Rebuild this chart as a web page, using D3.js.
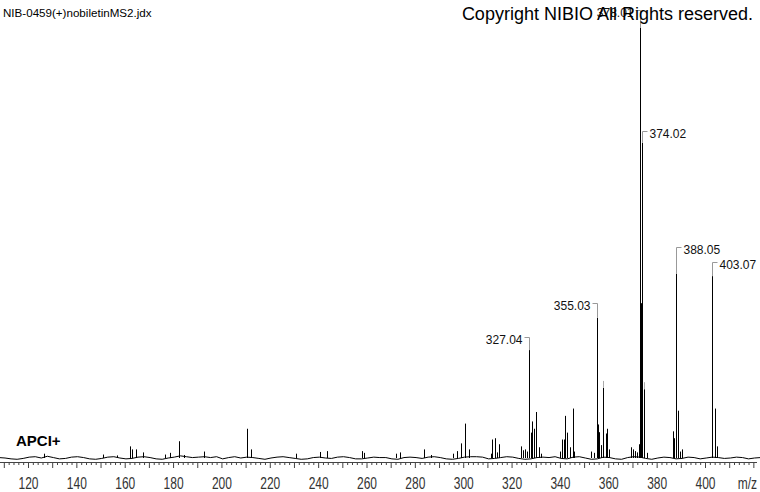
<!DOCTYPE html>
<html>
<head>
<meta charset="utf-8">
<script src="https://cdn.jsdelivr.net/npm/d3@7"></script>
<style>
  body { margin: 0; background: #fff; }
  svg { display: block; font-family: Arial, "Liberation Sans", sans-serif; }
</style>
</head>
<body>
<div id="spec"></div>
<script>
// spectrum data: m/z and relative intensity (%)
var peakMz = [126.6, 151.0, 157.0, 162.2, 163.0, 164.7, 167.6, 176.5, 178.7, 182.4, 184.5, 192.8,
  210.6, 212.4, 231.0, 240.8, 243.7, 258.0, 259.0, 272.0, 274.0, 283.8, 286.7,
  295.9, 297.3, 299.0, 300.9, 302.3, 311.4, 312.0, 313.0, 313.8, 314.9,
  324.0, 324.9, 325.5, 326.3, 327.1, 328.0, 328.4, 329.1, 329.9, 331.2, 332.0,
  340.2, 341.0, 341.6, 342.3, 343.0, 344.0, 345.2, 346.0,
  353.0, 354.2, 355.2, 355.9, 356.3, 357.0, 358.0, 358.9, 359.5, 360.4,
  369.5, 370.3, 370.9, 371.7, 372.5, 373.2, 373.6, 374.0, 374.8, 376.0,
  386.9, 387.3, 388.1, 388.9, 389.6, 390.3,
  402.9, 404.3, 405.0];
var peakInt = [1.0, 0.8, 0.6, 2.7, 2.0, 2.0, 1.3, 0.8, 1.2, 3.9, 0.7, 1.5,
  6.8, 2.0, 1.0, 1.4, 1.6, 1.6, 1.2, 1.0, 1.3, 2.0, 0.7,
  1.0, 1.6, 3.4, 8.0, 2.0, 1.0, 4.3, 4.6, 1.3, 3.2,
  2.7, 1.8, 2.0, 1.5, 25.1, 5.9, 8.5, 6.8, 10.7, 2.5, 1.0,
  1.5, 4.3, 4.3, 9.8, 5.9, 2.5, 11.5, 1.5,
  1.5, 1.2, 32.6, 7.8, 6.0, 3.0, 16.3, 5.7, 6.8, 2.0,
  2.5, 2.0, 1.6, 1.3, 3.2, 100, 36.0, 73.3, 16.0, 1.2,
  6.2, 4.6, 42.8, 11.0, 1.5, 2.0,
  42.3, 11.5, 2.7];

// baseline noise (%), every 2.5 m/z from 108
var noiseStart = 108, noiseStep = 2.5;
var noise = [
  0.1, 0.0, -0.2, -0.3, -0.1, 0.2, 0.3, 0.0, 0.4, 0.1,
  -0.2, -0.1, 0.2, 0.3, 0.1, -0.2, -0.3, -0.1, 0.2, 0.3,
  0.0, -0.2, -0.1, 0.2, 0.3, 0.1, -0.2, -0.3, 0.0, 0.2,
  0.5, 0.3, 0.1, 0.2, 0.3, 0.1, 0.3, -0.2, 0.1, 0.3,
  0.0, 0.2, 0.1, -0.1, -0.3, 0.0, 0.2, 0.3, 0.1, -0.1,
  -0.3, -0.2, 0.1, 0.2, 0.0, -0.1, 0.2, 0.3, 0.1, -0.2,
  -0.2, 0.0, 0.2, 0.1, 0.1, -0.2, -0.3, 0.1, 0.2, 0.1,
  -0.1, 0.2, 0.3, 0.1, -0.2, -0.3, -0.1, 0.2, 0.3, 0.3,
  0.2, -0.2, -0.1, 0.1, 0.3, 0.2, -0.1, -0.3, -0.2, 0.1,
  0.2, 0.1, 0.3, -0.1, -0.2, 0.2, 0.3, 0.0, -0.3, -0.2,
  0.2, 0.1, -0.2, -0.3, 0.1, 0.3, 0.2, -0.1, -0.3, 0.0,
  0.2, 0.1, -0.2, -0.1, 0.2, 0.1, -0.2, 0.0, 0.2, 0.1,
  -0.1, 0.0, 0.2, 0.1, -0.2, 0.0, 0.1];

// labelled peaks
var labelMz = [327.1, 355.2, 373.2, 374.0, 388.1, 402.9];
var labelInt = [25.1, 32.6, 100, 73.3, 42.8, 42.3];
var labelText = ["327.04", "355.03", "378.01", "374.02", "388.05", "403.07"];
var labelSide = ["L", "L", "L", "R", "R", "R"];
// leader marks without text
var markMz = [358.0, 374.8];
var markInt = [16.3, 16.0];

var tickLabels = [120, 140, 160, 180, 200, 220, 240, 260, 280, 300, 320, 340, 360, 380, 400];

var W = 760, H = 492;
var svg = d3.select("#spec").append("svg")
  .attr("width", W).attr("height", H);

var x = d3.scaleLinear().domain([120, 400]).range([28, 705]);
var y = d3.scaleLinear().domain([0, 100]).range([458, 28]);
var px = function(m) { return Math.round(x(m)) + 0.5; };

// baseline
var line = d3.line()
  .x(function(d, i) { return x(noiseStart + i * noiseStep); })
  .y(function(d) { return y(d); });
svg.append("path")
  .datum(noise)
  .attr("d", line)
  .attr("fill", "none")
  .attr("stroke", "#000")
  .attr("stroke-width", 1);

// sticks
svg.append("g").selectAll("line")
  .data(peakMz)
  .enter().append("line")
  .attr("x1", function(d) { return px(d); })
  .attr("x2", function(d) { return px(d); })
  .attr("y1", y(0))
  .attr("y2", function(d, i) { return y(peakInt[i]); })
  .attr("stroke", "#000")
  .attr("stroke-width", 1);

// x axis
var axisY = 462;
var ax = svg.append("g")
  .attr("transform", "translate(0," + axisY + ")")
  .call(d3.axisBottom(x)
    .tickValues(d3.range(110, 422, 2))
    .tickSizeOuter(0)
    .tickSize(3)
    .tickFormat(function(d) { return tickLabels.indexOf(d) >= 0 ? d : ""; }));
ax.select(".domain").attr("d", "M0,0.5H757").attr("stroke", "#444");
ax.selectAll(".tick line")
  .attr("stroke", "#444")
  .attr("y2", function(d) { return d % 10 === 0 ? 6 : 3; });
ax.selectAll(".tick text")
  .attr("y", null).attr("dy", null)
  .attr("transform", "translate(0,27) scale(0.75,1)")
  .attr("fill", "#333")
  .style("font-size", "16px")
  .style("font-family", "Arial, 'Liberation Sans', sans-serif");

svg.append("text")
  .attr("transform", "translate(757," + (axisY + 27) + ") scale(0.75,1)")
  .attr("text-anchor", "end")
  .attr("fill", "#333")
  .style("font-size", "16px")
  .text("m/z");

// peak labels
var labelLift = {"327.04": 13, "355.03": 15, "378.01": 18, "374.02": 12, "388.05": 27, "403.07": 14};
var lab = svg.append("g");
labelMz.forEach(function(m, i) {
  var xx = px(m), top = y(labelInt[i]), by = Math.round(top - labelLift[labelText[i]]) + 0.5;
  var dir = labelSide[i] === "L" ? -1 : 1;
  lab.append("path")
    .attr("d", "M" + xx + "," + top + "V" + by + "H" + (xx + dir * 5))
    .attr("fill", "none")
    .attr("stroke", "#999");
  lab.append("text")
    .attr("x", xx + dir * 7)
    .attr("y", by + 6)
    .attr("text-anchor", dir < 0 ? "end" : "start")
    .attr("fill", "#111")
    .style("font-size", "12px")
    .text(labelText[i]);
});
markMz.forEach(function(m, i) {
  var xx = px(m), top = y(markInt[i]);
  lab.append("line")
    .attr("x1", xx).attr("x2", xx)
    .attr("y1", top).attr("y2", top - 7)
    .attr("stroke", "#aaa");
});

// texts
svg.append("text")
  .attr("x", 3).attr("y", 17)
  .style("font-size", "11.6px")
  .attr("fill", "#000")
  .text("NIB-0459(+)nobiletinMS2.jdx");

svg.append("text")
  .attr("x", 753).attr("y", 20)
  .attr("text-anchor", "end")
  .style("font-size", "18px")
  .attr("fill", "#000")
  .text("Copyright NIBIO All Rights reserved.");

svg.append("text")
  .attr("x", 16).attr("y", 446)
  .style("font-size", "15px")
  .style("font-weight", "bold")
  .attr("fill", "#000")
  .text("APCI+");
</script>
</body>
</html>
